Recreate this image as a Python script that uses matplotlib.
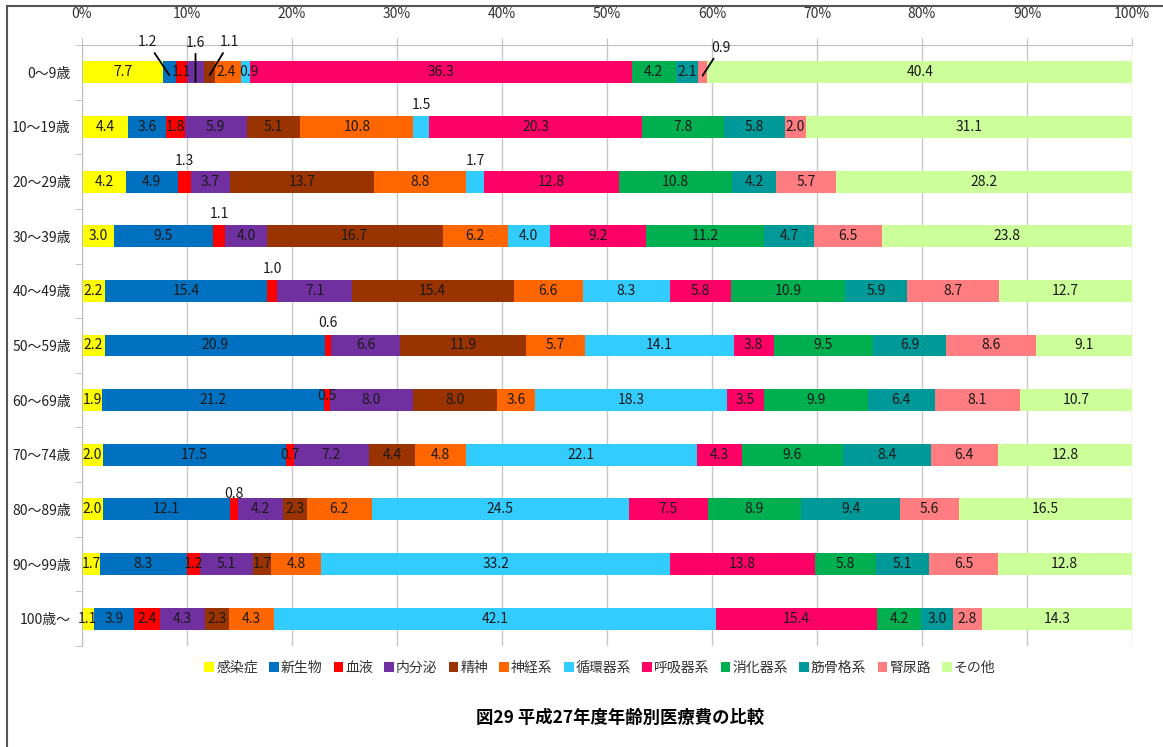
import numpy as np
import matplotlib
matplotlib.use('Agg')
import matplotlib.pyplot as plt
from matplotlib.lines import Line2D

plt.rcParams['font.family'] = ['Noto Sans CJK JP', 'DejaVu Sans']

# age groups (top -> bottom)
ages = ['0～9歳', '10～19歳', '20～29歳', '30～39歳', '40～49歳', '50～59歳',
        '60～69歳', '70～74歳', '80～89歳', '90～99歳', '100歳～']

causes = ['感染症', '新生物', '血液', '内分泌', '精神', '神経系', '循環器系',
          '呼吸器系', '消化器系', '筋骨格系', '腎尿路', 'その他']
colors = ['#FFFF00', '#0070C0', '#FF0000', '#7030A0', '#993300', '#FF6600',
          '#33CCFF', '#FF0066', '#00B050', '#009999', '#FF7C80', '#CCFF99']

# share (%) per age group
kansen     = [7.7, 4.4, 4.2, 3.0, 2.2, 2.2, 1.9, 2.0, 2.0, 1.7, 1.1]
shinsei    = [1.2, 3.6, 4.9, 9.5, 15.4, 20.9, 21.2, 17.5, 12.1, 8.3, 3.9]
ketsueki   = [1.1, 1.8, 1.3, 1.1, 1.0, 0.6, 0.5, 0.7, 0.8, 1.2, 2.4]
naibunpi   = [1.6, 5.9, 3.7, 4.0, 7.1, 6.6, 8.0, 7.2, 4.2, 5.1, 4.3]
seishin    = [1.1, 5.1, 13.7, 16.7, 15.4, 11.9, 8.0, 4.4, 2.3, 1.7, 2.3]
shinkei    = [2.4, 10.8, 8.8, 6.2, 6.6, 5.7, 3.6, 4.8, 6.2, 4.8, 4.3]
junkan     = [0.9, 1.5, 1.7, 4.0, 8.3, 14.1, 18.3, 22.1, 24.5, 33.2, 42.1]
kokyu      = [36.3, 20.3, 12.8, 9.2, 5.8, 3.8, 3.5, 4.3, 7.5, 13.8, 15.4]
shoka      = [4.2, 7.8, 10.8, 11.2, 10.9, 9.5, 9.9, 9.6, 8.9, 5.8, 4.2]
kinkokkaku = [2.1, 5.8, 4.2, 4.7, 5.9, 6.9, 6.4, 8.4, 9.4, 5.1, 3.0]
jinnyoro   = [0.9, 2.0, 5.7, 6.5, 8.7, 8.6, 8.1, 6.4, 5.6, 6.5, 2.8]
sonota     = [40.4, 31.1, 28.2, 23.8, 12.7, 9.1, 10.7, 12.8, 16.5, 12.8, 14.3]

data = np.array([kansen, shinsei, ketsueki, naibunpi, seishin, shinkei,
                 junkan, kokyu, shoka, kinkokkaku, jinnyoro, sonota])
share = data / data.sum(axis=0) * 100  # 100% stacked like excel

# labels placed above the bar (row, series): pixel offset upward
above = {(1, 6): 22, (2, 2): 21, (2, 6): 21, (3, 2): 22, (4, 2): 22,
         (5, 2): 22, (8, 2): 15, (6, 2): 4}
# labels with leader lines: (dx, dy) in pixels, y shift of anchor in rows
leader = {(0, 1): (-22, 33, 0.05), (0, 3): (0, 39, 0.17),
          (0, 4): (20, 33, 0.05), (0, 10): (18, 28, 0.06)}
# small horizontal nudges for crowded labels
nudge = {(0, 5): -2, (0, 6): 3}

fig = plt.figure(figsize=(11.63, 7.47), dpi=100)
ax = fig.add_axes([82/1163, 1-646/747, 1050/1163, 601/747])

y = np.arange(len(ages))
left = np.zeros(len(ages))
for i in range(len(causes)):
    ax.barh(y, share[i], left=left, height=0.4, color=colors[i],
            label=causes[i], zorder=2)
    for r in range(len(ages)):
        cx = left[r] + share[i][r] / 2
        txt = '%.1f' % data[i][r]
        if (r, i) in leader:
            dx, dy, sh = leader[(r, i)]
            ax.annotate(txt, xy=(cx, r + sh), xytext=(dx, dy),
                        textcoords='offset pixels', ha='center', va='center',
                        fontsize=10, color='#1a1a1a', zorder=4,
                        arrowprops=dict(arrowstyle='-', color='black', lw=1.3,
                                        shrinkA=1, shrinkB=0))
        elif (r, i) in above:
            ax.annotate(txt, xy=(cx, r), xytext=(0, above[(r, i)]),
                        textcoords='offset pixels', ha='center', va='center',
                        fontsize=10, color='#1a1a1a', zorder=4)
        else:
            ax.annotate(txt, xy=(cx, r), xytext=(nudge.get((r, i), 0), 0),
                        textcoords='offset pixels', ha='center', va='center',
                        fontsize=10, color='#1a1a1a', zorder=3)
    left = left + share[i]

ax.set_xlim(0, 100)
ax.set_ylim(len(ages) - 0.5, -0.5)
ax.xaxis.tick_top()
ax.set_xticks(np.arange(0, 101, 10))
ax.set_xticklabels(['%d%%' % v for v in range(0, 101, 10)])
ax.tick_params(axis='x', length=5, color='#BFBFBF', labelsize=10,
               labelcolor='#333333', pad=12)
ax.set_yticks(y)
ax.set_yticklabels(ages)
ax.set_yticks(np.arange(-0.5, len(ages), 1), minor=True)
ax.tick_params(axis='y', which='major', length=0, labelsize=10,
               labelcolor='#222222', pad=8)
ax.tick_params(axis='y', which='minor', length=5, color='#BFBFBF')
ax.grid(axis='x', color='#C8C8C8', lw=1, zorder=0)
ax.set_axisbelow(True)
for s in ['bottom', 'right']:
    ax.spines[s].set_visible(False)
for s in ['top', 'left']:
    ax.spines[s].set_color('#BFBFBF')

fig.legend(loc='center', bbox_to_anchor=(600/1163, 1-668/747), ncol=12,
           frameon=False, handlelength=0.7, handleheight=0.7,
           handletextpad=0.15, columnspacing=0.8, fontsize=10,
           labelcolor='#333333')

fig.text(620/1163, 1-718/747, '図29 平成27年度年齢別医療費の比較',
         ha='center', va='center', fontsize=12.5, fontweight='bold')

# outer frame (top and left edges visible)
fig.add_artist(Line2D([7/1163, 1], [1-6/747, 1-6/747], color='#555555', lw=1.5))
fig.add_artist(Line2D([7/1163, 7/1163], [0, 1-6/747], color='#555555', lw=1.5))

fig.savefig('out.png', dpi=100)
